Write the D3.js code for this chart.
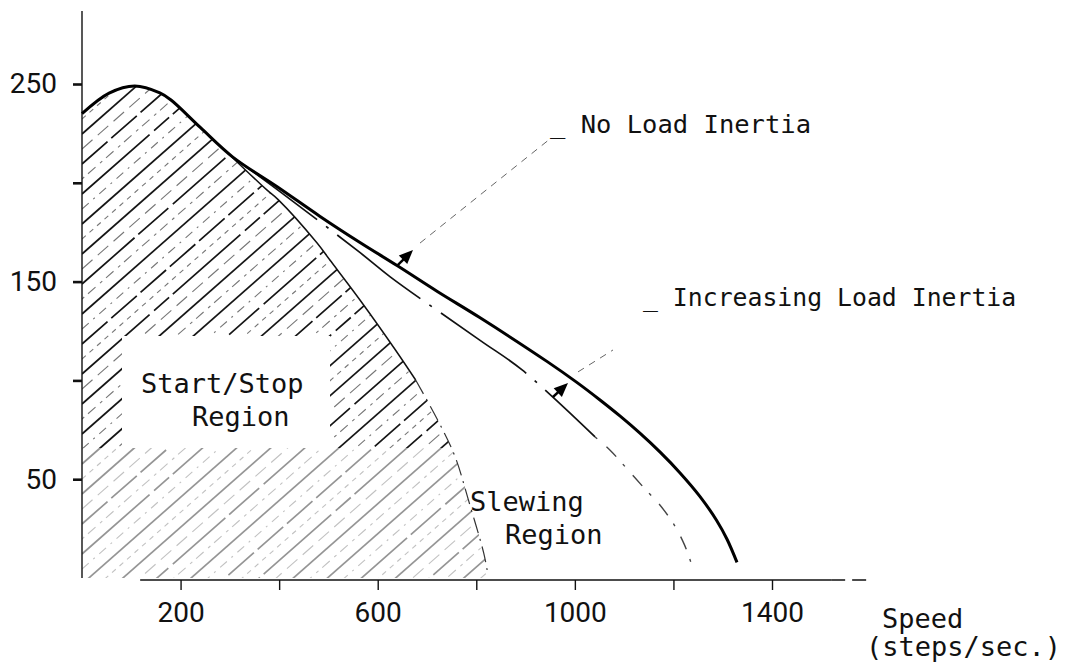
<!DOCTYPE html>
<html>
<head>
<meta charset="utf-8">
<script src="https://cdn.jsdelivr.net/npm/d3@7"></script>
<style>
body { margin: 0; background: #fff; }
svg text { font-family: "DejaVu Sans Mono", monospace; fill: #111; }
.tick text { font-family: Roboto, "DejaVu Sans", sans-serif; font-size: 28px; fill: #111; }
</style>
</head>
<body>
<svg id="chart" width="1070" height="671"></svg>
<script>
//torque / speed curves of the stepper motor (speed in steps/sec.)
var noLoad = [[0,235],[55,245.4],[107,249],[158,245.5],[180,242],[240,228],[306,213],[396,198],[483,183],
	[564,169.8],[640,158],[721,145],[807,131.8],[944,109.5],[1004,99],[1051,90.1],[1092,81.9],[1132,73.3],
	[1173,63.7],[1213,53.3],[1254,41.2],[1288,29],[1309,19.5],[1329,7.9]];
var withInertia = [[306,213],[403,195.3],[565,164.5],[626,152.3],[807,120.4],[893,105.3],[1041,71.4],
	[1071,64.8],[1106,55.2],[1148,43.5],[1169,38],[1200,27.5],[1222,17],[1236,7.5]];
var pullIn = [[294,215.5],[375,196.4],[398,191.5],[477,169.5],[503,160.9],[564,140.7],[636,115.4],
	[677,100.2],[727,77.4],[758,60.7],[784,39.5],[815,12.7],[822,4]];
var yTicks = [50,100,150,200,250];
var yLabels = [50,150,250];
var xTicks = [200,400,600,800,1000,1200,1400];
var xLabels = [200,600,1000,1400];
//marker on a curve : [curve point, tip], leader : [start, end]
var noLoadMarker = [[639,158],[671.6,166.0]];
var noLoadLeader = [[685.8,169.5],[949.5,222.2]];
var incMarker = [[955.6,91.6],[986.1,98.7]];
var incLeader = [[1006.4,104.3],[1077.4,115.4]];

var svg = d3.select("#chart");
var x = d3.scaleLinear().domain([0,1400]).range([82,772]);
var y = d3.scaleLinear().domain([0,250]).range([578,84]);

var line = d3.line().x(function(d) {return x(d[0]);}).y(function(d) {return y(d[1]);})
	.curve(d3.curveCatmullRom.alpha(0.5));

//start/stop region : under the no load curve up to the join, then under the pull in curve
var left = noLoad.filter(function(d) {return d[0] < pullIn[0][0];});
var regionPath = line(left.concat([pullIn[0]])) + line(pullIn).replace(/^M/,"L")
	+ "L" + x(pullIn[pullIn.length-1][0]+3) + "," + y(0) + "L" + x(0) + "," + y(0) + "Z";
svg.append("clipPath").attr("id","region").append("path").attr("d",regionPath);

//hatching : strong lines with faint ones in between
var hatch = svg.append("g").attr("clip-path","url(#region)");
var strong = ["none","70,5,40,6","none","34,5","90,6,20,5","none"];
var faint = ["9,6,2,6","5,5","14,7","3,5,10,6"];
var slope = 0.88, span = 760;
for (var c = 74, i = 0; c < 600 + slope*span; c += 15, i++)
{
	var isStrong = i%2 == 0;
	hatch.append("line")
		.attr("x1",x(0)).attr("y1",c)
		.attr("x2",x(0)+span).attr("y2",c-slope*span)
		.attr("stroke",isStrong ? "#161616" : "#777")
		.attr("stroke-width",isStrong ? 1.7 : 1.1)
		.attr("stroke-dasharray",isStrong ? strong[(i/2)%strong.length] : faint[((i-1)/2)%faint.length]);
}
//lighter hatching in the lower part and a clear area round the label
hatch.append("rect").attr("x",x(0)).attr("y",448).attr("width",span).attr("height",140)
	.attr("fill","#fff").attr("opacity",0.55);
svg.append("rect").attr("x",122).attr("y",336).attr("width",208).attr("height",112).attr("fill","#fff");

//axes
var yAxis = d3.axisLeft(y).tickValues(yTicks).tickSize(9).tickPadding(16)
	.tickFormat(function(d) {return yLabels.indexOf(d) >= 0 ? d : "";});
var gy = svg.append("g").attr("transform","translate(" + x(0) + ",0)").call(yAxis);
gy.select(".domain").remove();
gy.selectAll(".tick line").attr("stroke","#111").attr("stroke-width",2.6);

var xAxis = d3.axisBottom(x).tickValues(xTicks).tickSize(10).tickPadding(12)
	.tickFormat(function(d) {return xLabels.indexOf(d) >= 0 ? d : "";});
var gx = svg.append("g").attr("transform","translate(0," + (y(0)+2) + ")").call(xAxis);
gx.select(".domain").remove();
gx.selectAll(".tick line").attr("stroke","#111").attr("stroke-width",1.4);

svg.append("line").attr("x1",x(0)).attr("x2",x(0)).attr("y1",y(287)).attr("y2",y(0))
	.attr("stroke","#111").attr("stroke-width",1.4);
svg.append("line").attr("x1",x(118)).attr("x2",x(1520)).attr("y1",y(0)+2).attr("y2",y(0)+2)
	.attr("stroke","#111").attr("stroke-width",1.6);
svg.append("line").attr("x1",x(1520)).attr("x2",x(1595)).attr("y1",y(0)+2).attr("y2",y(0)+2)
	.attr("stroke","#111").attr("stroke-width",1.4).attr("stroke-dasharray","14,7");

//curves
svg.append("path").attr("d",line(pullIn.slice(0,8))).attr("fill","none")
	.attr("stroke","#111").attr("stroke-width",1.5);
svg.append("path").attr("d",line(pullIn.slice(7))).attr("fill","none")
	.attr("stroke","#333").attr("stroke-width",1.2).attr("stroke-dasharray","16,6,2,6");
svg.append("path").attr("d",line(withInertia.slice(0,7))).attr("fill","none")
	.attr("stroke","#111").attr("stroke-width",1.7).attr("stroke-dasharray","105,11,3,11");
svg.append("path").attr("d",line(withInertia.slice(6))).attr("fill","none")
	.attr("stroke","#444").attr("stroke-width",1.4).attr("stroke-dasharray","3,12,14,10");
svg.append("path").attr("d",line(noLoad)).attr("fill","none")
	.attr("stroke","#000").attr("stroke-width",3);

//markers and leaders
function marker(m, leader)
{
	var x0 = x(m[0][0]), y0 = y(m[0][1]), x1 = x(m[1][0]), y1 = y(m[1][1]);
	var dx = x1-x0, dy = y1-y0, len = Math.sqrt(dx*dx+dy*dy);
	var ux = dx/len, uy = dy/len;
	svg.append("line").attr("x1",x0).attr("y1",y0).attr("x2",x1-ux*9).attr("y2",y1-uy*9)
		.attr("stroke","#000").attr("stroke-width",2.4);
	svg.append("path")
		.attr("d","M" + x1 + "," + y1 + "L" + (x1-ux*14-uy*6) + "," + (y1-uy*14+ux*6)
			+ "L" + (x1-ux*14+uy*6) + "," + (y1-uy*14-ux*6) + "Z")
		.attr("fill","#000");
	svg.append("line")
		.attr("x1",x(leader[0][0])).attr("y1",y(leader[0][1]))
		.attr("x2",x(leader[1][0])).attr("y2",y(leader[1][1]))
		.attr("stroke","#666").attr("stroke-width",1).attr("stroke-dasharray","7,6");
}
marker(noLoadMarker,noLoadLeader);
marker(incMarker,incLeader);

//labels
var labels = [
	{t:"_ No Load Inertia", x:550, y:133, s:25.5},
	{t:"_ Increasing Load Inertia", x:643, y:306, s:24.8},
	{t:"Start/Stop", x:141, y:393, s:27},
	{t:"Region", x:192, y:426, s:27},
	{t:"Slewing", x:470, y:511, s:27},
	{t:"Region", x:505, y:544, s:27},
	{t:"Speed", x:882, y:628, s:27},
	{t:"(steps/sec.)", x:866, y:656, s:27}
];
svg.selectAll("text.label").data(labels).enter().append("text")
	.attr("class","label")
	.attr("x",function(d) {return d.x;})
	.attr("y",function(d) {return d.y;})
	.style("font-size",function(d) {return d.s + "px";})
	.text(function(d) {return d.t;});
</script>
</body>
</html>
